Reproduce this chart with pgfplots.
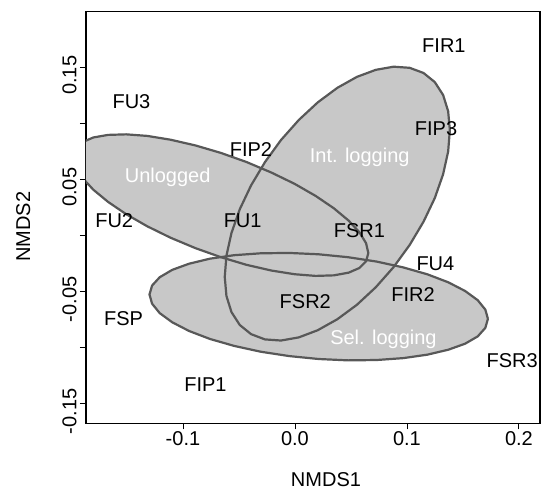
\documentclass[border=0pt]{standalone}
\usepackage{pgfplots}
\usepackage{pgfplotstable}
\pgfplotsset{compat=1.18}
\usepackage{fontspec}
\setmainfont{Liberation Sans}

\definecolor{ellfill}{RGB}{200,200,200}
\definecolor{elledge}{RGB}{88,88,88}

% ellipse outlines
\pgfplotstableread{
x y
0.0655 -0.0159
0.0635 -0.0071
0.0576 0.0026
0.0479 0.0131
0.0347 0.0241
0.0185 0.0351
-0.0003 0.0459
-0.0211 0.0560
-0.0433 0.0654
-0.0661 0.0735
-0.0889 0.0802
-0.1111 0.0853
-0.1319 0.0887
-0.1507 0.0901
-0.1669 0.0896
-0.1801 0.0873
-0.1898 0.0831
-0.1957 0.0772
-0.1977 0.0697
-0.1957 0.0610
-0.1898 0.0512
-0.1801 0.0407
-0.1669 0.0298
-0.1507 0.0188
-0.1319 0.0080
-0.1111 -0.0022
-0.0889 -0.0115
-0.0661 -0.0196
-0.0433 -0.0264
-0.0211 -0.0315
-0.0003 -0.0348
0.0185 -0.0363
0.0347 -0.0358
0.0479 -0.0334
0.0576 -0.0292
0.0635 -0.0233
0.0655 -0.0159
}\unlogged

\pgfplotstableread{
x y
0.1383 0.0938
0.1368 0.1107
0.1323 0.1252
0.1249 0.1367
0.1148 0.1449
0.1024 0.1495
0.0881 0.1505
0.0722 0.1477
0.0553 0.1414
0.0378 0.1316
0.0203 0.1186
0.0034 0.1029
-0.0125 0.0850
-0.0268 0.0653
-0.0392 0.0445
-0.0493 0.0232
-0.0567 0.0020
-0.0612 -0.0183
-0.0627 -0.0372
-0.0612 -0.0542
-0.0567 -0.0686
-0.0493 -0.0801
-0.0392 -0.0883
-0.0268 -0.0930
-0.0125 -0.0940
0.0034 -0.0912
0.0203 -0.0848
0.0378 -0.0750
0.0553 -0.0621
0.0722 -0.0464
0.0881 -0.0284
0.1024 -0.0087
0.1148 0.0121
0.1249 0.0333
0.1323 0.0545
0.1368 0.0748
0.1383 0.0938
}\intlog

\pgfplotstableread{
x y
0.1723 -0.0746
0.1700 -0.0664
0.1632 -0.0580
0.1520 -0.0498
0.1369 -0.0420
0.1183 -0.0349
0.0967 -0.0287
0.0729 -0.0235
0.0474 -0.0196
0.0212 -0.0170
-0.0050 -0.0158
-0.0305 -0.0161
-0.0543 -0.0178
-0.0759 -0.0209
-0.0945 -0.0254
-0.1096 -0.0309
-0.1208 -0.0375
-0.1276 -0.0449
-0.1299 -0.0529
-0.1276 -0.0611
-0.1208 -0.0695
-0.1096 -0.0777
-0.0945 -0.0855
-0.0759 -0.0926
-0.0543 -0.0988
-0.0305 -0.1040
-0.0050 -0.1079
0.0212 -0.1105
0.0474 -0.1117
0.0729 -0.1114
0.0967 -0.1097
0.1183 -0.1066
0.1369 -0.1022
0.1520 -0.0968
0.1632 -0.0903
0.1700 -0.0827
0.1723 -0.0746
}\sellog

\pgfplotstableread[col sep=comma]{
x,y,label
0.133,0.170,FIR1
-0.146,0.120,FU3
0.126,0.0955,FIP3
-0.0393,0.0771,FIP2
-0.1614,0.0131,FU2
-0.0467,0.0137,FU1
0.0575,0.0048,FSR1
0.1254,-0.025,FU4
0.1054,-0.0524,FIR2
0.0092,-0.0592,FSR2
-0.1531,-0.0741,FSP
0.194,-0.1113,FSR3
-0.0799,-0.133,FIP1
}\sites

\pgfplotstableread[col sep=comma]{
x,y,label
-0.1137,0.0534,Unlogged
0.0578,0.0716,Int. logging
0.079,-0.0911,Sel. logging
}\groups

\begin{document}
\begin{tikzpicture}
\begin{axis}[
    scale only axis,
    width=454pt, height=411.6pt,
    xmin=-0.1866, xmax=0.2188,
    ymin=-0.1679, ymax=0.1996,
    xtick={-0.1,0,0.1,0.2},
    xticklabels={-0.1,0.0,0.1,0.2},
    ytick={-0.15,-0.1,-0.05,0,0.05,0.1,0.15},
    yticklabels={-0.15,,-0.05,,0.05,,0.15},
    xtick pos=left, ytick pos=left,
    tick align=outside,
    major tick length=6pt,
    tick style={black, line width=0.9pt},
    axis line style={black, line width=1.3pt},
    /pgf/number format/assume math mode=true,
    font=\fontsize{20}{24}\selectfont,
    ticklabel style={font=\fontsize{20}{24}\selectfont},
    xticklabel style={yshift=1pt},
    yticklabel style={rotate=90, anchor=south, xshift=-8pt},
    xlabel={NMDS1}, ylabel={NMDS2},
    xlabel style={at={(axis description cs:0.5286,-0.1378)}, anchor=center},
    ylabel style={at={(axis description cs:-0.1381,0.4777)}, anchor=center},
    every node near coord/.append style={anchor=center, text height=14.3pt,
        text depth=0pt, inner sep=0pt, font=\fontsize{20}{24}\selectfont},
]
% fills first, outlines after, as in the figure
\addplot[fill=ellfill, draw=none] table {\unlogged};
\addplot[fill=ellfill, draw=none] table {\intlog};
\addplot[fill=ellfill, draw=none] table {\sellog};
\addplot[draw=elledge, line width=2.2pt, line join=round] table {\unlogged};
\addplot[draw=elledge, line width=2.2pt, line join=round] table {\intlog};
\addplot[draw=elledge, line width=2.2pt, line join=round] table {\sellog};

\addplot[draw=none, mark=none, nodes near coords, point meta=explicit symbolic,
    every node near coord/.append style={text=black}]
    table[x=x, y=y, meta=label] {\sites};
\addplot[draw=none, mark=none, nodes near coords, point meta=explicit symbolic,
    every node near coord/.append style={text=white}]
    table[x=x, y=y, meta=label] {\groups};
\end{axis}
\pgfresetboundingbox
\path ([xshift=-86pt, yshift=-70pt]current axis.south west)
    rectangle ([xshift=1pt, yshift=11.7pt]current axis.north east);
\end{tikzpicture}
\end{document}
